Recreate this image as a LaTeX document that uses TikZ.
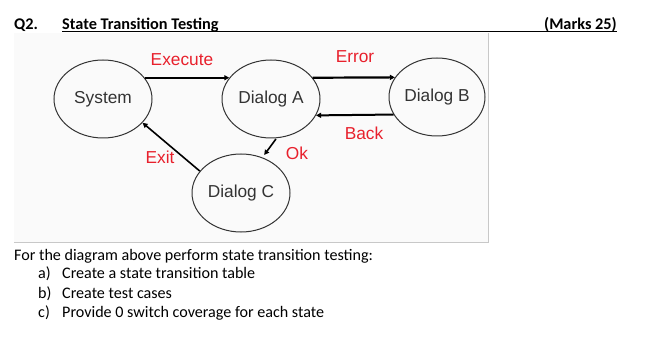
\documentclass[tikz,border=0pt]{standalone}
\usepackage{fontspec}
\setmainfont{Carlito}
\newfontfamily\arialf{Liberation Sans}
\usetikzlibrary{shapes.geometric,arrows.meta}
\definecolor{lblred}{RGB}{232,32,44}
\definecolor{dgray}{RGB}{51,51,51}
\definecolor{bggray}{RGB}{250,250,250}
\definecolor{frame}{RGB}{200,200,200}
\tikzset{
  state/.style={ellipse,draw=dgray,line width=1pt,minimum width=98pt,minimum height=78pt,inner sep=0pt,
    font=\arialf\fontsize{17.3}{19}\selectfont,text=dgray},
  lbl/.style={font=\arialf\fontsize{17.3}{19}\selectfont,text=lblred,inner sep=0pt},
  trans/.style={line width=2.2pt,-{Triangle[length=5pt,width=5pt]}},
  thin trans/.style={line width=1.6pt,-{Triangle[length=5pt,width=5pt]}},
  body/.style={font=\fontsize{16.1}{19}\selectfont,anchor=base west,inner sep=0pt},
  head/.style={font=\fontsize{16.3}{19}\selectfont\bfseries,anchor=base west,inner sep=0pt},
}
\begin{document}
\begin{tikzpicture}[x=1pt,y=-1pt]
\useasboundingbox (0,0) rectangle (658,339);
\fill[white] (0,0) rectangle (658,339);
% picture area
\fill[bggray] (14,33) rectangle (488,242);
\draw[frame,line width=0.8pt] (14,242) -- (488,242) -- (488,33);
% header
\node[head] (q) at (14,29.5) {Q2.};
\node[head] (title) at (62,29.5) {State Transition Testing};
\node[head,anchor=base east] (marks) at (617,29.5) {(Marks 25)};
\draw[line width=0.8pt] (title.base west) ++(0,2) coordinate (ul1) -- (ul1 -| marks.east);
% states
\node[state] (sys) at (103,99) {System};
\node[state] (dA) at (271,99) {Dialog A};
\node[state,minimum width=96pt] (dB) at (437,97) {Dialog B};
\node[state] (dC) at (241,193) {Dialog C};
% transitions
\draw[trans] (sys.27) -- (dA.153);
\draw[trans] (dA.27) -- (dB.155.6);
\draw[trans,line width=2pt] (dB.202.9) -- (dA.340.3);
\draw[thin trans,shorten <=1pt,shorten >=3pt] (dA.278.5) -- (dC.59.7);
\draw[thin trans] (dC.152) -- (sys.329);
% labels
\node[lbl] (lExec) at (182,60) {Execute};
\node[lbl] (lErr) at (355,57) {Error};
\node[lbl] (lBack) at (364,133) {Back};
\node[lbl] (lOk) at (297,153) {Ok};
\node[lbl] (lExit) at (160,157) {Exit};
% body text
\node[body] (t0) at (14,260) {For the diagram above perform state transition testing:};
\node[body] (a) at (38,278.5) {a)};
\node[body] (at) at (62,278.5) {Create a state transition table};
\node[body] (b) at (38,298) {b)};
\node[body] (bt) at (62,298) {Create test cases};
\node[body] (c) at (38,317) {c)};
\node[body] (ct) at (62,317) {Provide 0 switch coverage for each state};
\end{tikzpicture}
\end{document}
